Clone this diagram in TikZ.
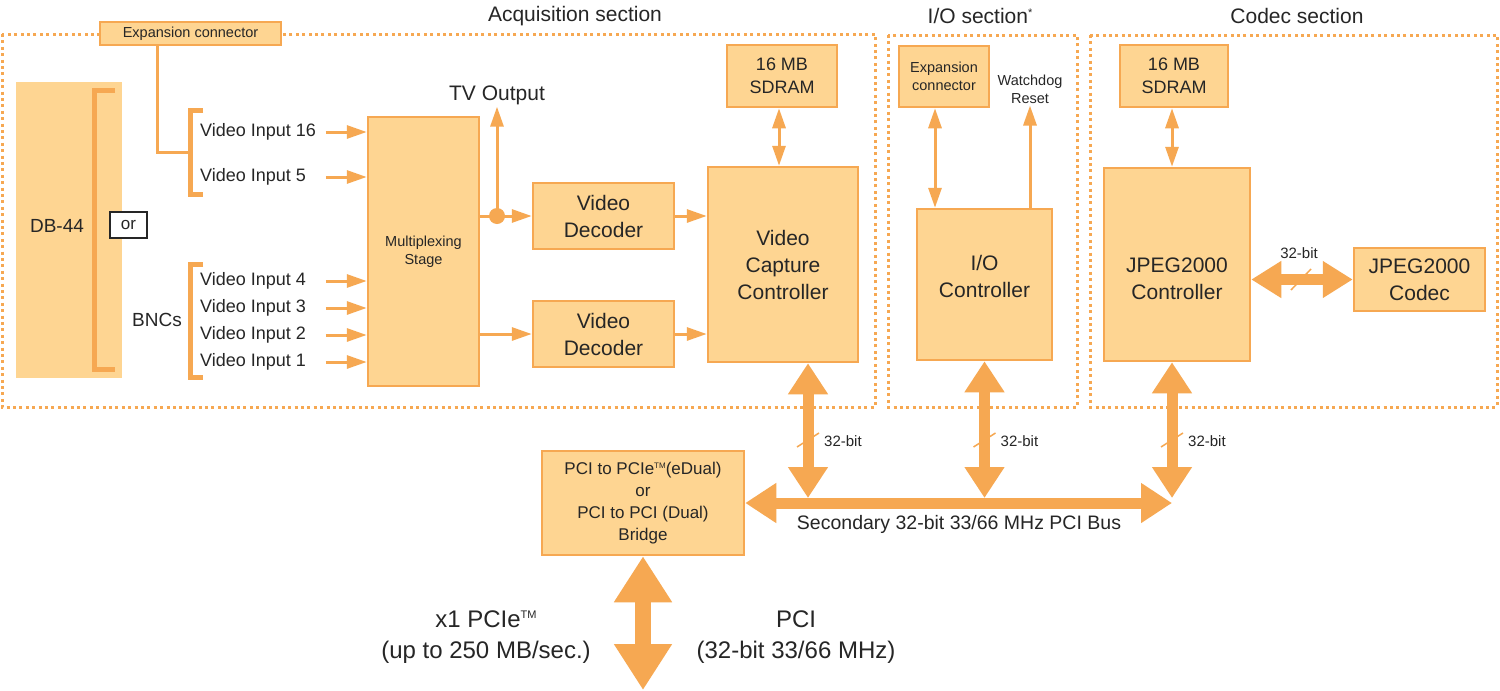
\documentclass[tikz,border=0pt]{standalone}
\usepackage{fontspec}
\setmainfont{Liberation Sans}
\usetikzlibrary{arrows.meta,calc}
\definecolor{ofill}{HTML}{FED592}
\definecolor{ob}{HTML}{F6A852}
\definecolor{tx}{HTML}{262626}
\newcommand{\myfs}[2]{\fontsize{#1}{#2}\selectfont}
\newcommand{\mytm}[2]{{\myfs{#1}{#1}\raisebox{#2}{TM}}}
\begin{document}
\begin{tikzpicture}[x=1pt,y=-1pt,
 box/.style={draw=ob, fill=ofill, line width=2.5pt, inner sep=0pt, text=tx, align=center},
 txt/.style={text=tx, inner sep=0pt, align=center},
 dotbox/.style={draw=ob, line width=3pt, dash pattern=on 3pt off 3.4pt},
 thinline/.style={draw=ob, line width=3pt},
 thinarr/.style={thinline, -{Triangle[length=20pt,width=13pt]}},
 thindbl/.style={thinline, {Triangle[length=20pt,width=13pt]}-{Triangle[length=20pt,width=13pt]}},
 bracket/.style={draw=ob, line width=5pt},
 busarr/.style={draw=ob, line width=11pt, {Triangle[length=31pt,width=38pt]}-{Triangle[length=31pt,width=38pt]}},
 codarr/.style={draw=ob, line width=11pt, {Triangle[length=30pt,width=35pt]}-{Triangle[length=30pt,width=35pt]}},
 hugearr/.style={draw=ob, line width=16pt, {Triangle[length=46pt,width=55pt]}-{Triangle[length=46pt,width=55pt]}},
 slash/.style={draw=ob, line width=1.5pt},
 big/.style={font=\myfs{21}{27}},
 mid/.style={font=\myfs{18}{23}},
 small/.style={font=\myfs{14.5}{18}},
 ]
\fill[white] (0,0) rectangle (1500,691);
\useasboundingbox (0,0) rectangle (1500,691);

% section frames
\draw[dotbox] (2,34) rectangle (875,407);
\draw[dotbox] (888,35) rectangle (1077,407);
\draw[dotbox] (1090,35) rectangle (1497,407);

% titles
\node[txt, big] (tacq) at (575,16) {Acquisition section};
\node[txt, big] (tio) at (980,16) {I/O section\raisebox{7pt}{\myfs{11}{11}*}};
\node[txt, big] (tcod) at (1297,16) {Codec section};

% acquisition section
\node[box, small] (expc) at (190.5,33.5) [minimum width=181pt, minimum height=23pt] {Expansion connector};
\node[fill=ofill, inner sep=0pt, minimum width=106pt, minimum height=296pt] (db) at (69,230) {};
\node[txt, font=\myfs{19}{22}] (dbt) at (57,226) {DB-44};
\draw[bracket] (115,90) -- (94.5,90) -- (94.5,369) -- (115,369);
\node[draw=tx, line width=1.2pt, fill=white, minimum width=37pt, minimum height=26pt, inner sep=0pt, text=tx, font=\myfs{17}{20}] (orb) at (128.5,225) {or};
\node[txt, font=\myfs{19}{22}] (bnc) at (157,320) {BNCs};

\draw[bracket] (203,110.5) -- (190.5,110.5) -- (190.5,194) -- (203,194);
\draw[bracket] (203,264) -- (190.5,264) -- (190.5,377) -- (203,377);
\coordinate (br1) at (190.5,152);
\coordinate (ecx) at (157,0);
\draw[thinline] (expc.south -| ecx) |- (br1);

\node[box, small, minimum width=111pt, minimum height=269pt] (mux) at (423.5,251.5) {Multiplexing\\Stage};

\foreach \n/\t/\yy in {vi16/16/132, vi5/5/177, vi4/4/281, vi3/3/308, vi2/2/335, vi1/1/362}{
  \node[txt, mid, anchor=west] (\n) at (200,\yy) {Video Input \t};
  \draw[thinarr] ($(mux.west |- \n)+(-41,0)$) -- (mux.west |- \n);
}

\node[box, big, minimum width=141pt, minimum height=66pt] (dec1) at (603.5,216) {Video\\Decoder};
\node[box, big, minimum width=141pt, minimum height=66pt] (dec2) at (603.5,334) {Video\\Decoder};
\node[box, big, minimum width=150pt, minimum height=195pt] (vcc) at (783,264.5) {Video\\Capture\\Controller};
\node[box, mid, minimum width=110pt, minimum height=62pt] (sd1) at (782,76) {16 MB\\SDRAM};

\node[txt, big] (tv) at (497,95) {TV Output};
\draw[thinarr] (mux.east |- dec1) -- (dec1.west);
\node[circle, fill=ob, minimum size=16pt, inner sep=0pt] (jn) at (497,216) {};
\draw[thinarr] (jn.center) -- ($(jn.center |- tv.south)+(0,2)$);
\draw[thinarr] (mux.east |- dec2) -- (dec2.west);
\draw[thinarr] (dec1.east) -- (dec1.east -| vcc.west);
\draw[thinarr] (dec2.east) -- (dec2.east -| vcc.west);
\coordinate (s1x) at (779,0);
\draw[thindbl] (sd1.south -| s1x) -- (vcc.north -| s1x);

% I/O section
\node[box, small, minimum width=90pt, minimum height=61pt] (ioexp) at (944,76.5) {Expansion\\connector};
\node[txt, small] (wd) at (1030,89) {Watchdog\\Reset};
\node[box, minimum width=135pt, minimum height=151pt,
  label={[txt, big, yshift=8pt]center:{I/O\\Controller}}] (ioc) at (984.5,284.5) {};
\coordinate (iax) at (935,0);
\draw[thindbl] (ioexp.south -| iax) -- (ioc.north -| iax);
\draw[thinarr] (ioc.north -| wd) -- ($(wd.south)+(0,2)$);

% codec section
\node[box, mid, minimum width=108pt, minimum height=62pt] (sd2) at (1174,76) {16 MB\\SDRAM};
\node[box, minimum width=146pt, minimum height=193pt,
  label={[txt, big, yshift=-14pt]center:{JPEG2000\\Controller}}] (jc) at (1177,264.5) {};
\node[box, big, minimum width=131pt, minimum height=63pt] (jcod) at (1419.5,279.5) {JPEG2000\\Codec};
\coordinate (s2x) at (1172,0);
\draw[thindbl] (sd2.south -| s2x) -- (jc.north -| s2x);
\draw[codarr] (jc.east |- jcod) -- (jcod.west);
\draw[slash] (1291,290) -- (1311,269);
\node[txt, font=\myfs{15}{17}] (cb) at (1299,253) {32-bit};

% bridge and bus
\node[box, font=\myfs{17}{22}, minimum width=202pt, minimum height=104pt] (br) at (643,503) {PCI to PCIe\mytm{8}{6pt}(eDual)\\or\\PCI to PCI (Dual)\\Bridge};
\coordinate (busR) at (1172,503);
\coordinate (b1) at (808,498);
\coordinate (b2) at (984.5,498);
\coordinate (b3) at (1172,498);
\draw[busarr] (br.east) -- (busR);
\draw[busarr] (vcc.south -| b1) -- (b1);
\draw[busarr] (ioc.south -| b2) -- (b2);
\draw[busarr] (jc.south -| b3) -- (b3);
\node[txt, font=\myfs{19.5}{22}] (bust) at (959,524) {Secondary 32-bit 33/66 MHz PCI Bus};

\foreach \c/\n in {b1/l1, b2/l2, b3/l3}{
  \draw[slash] ($(\c |- 0,447)+(-11,0)$) -- ($(\c |- 0,433)+(11,0)$);
  \node[txt, font=\myfs{15}{17}, anchor=west] (\n) at ($(\c |- 0,441)+(16,0)$) {32-bit};
}

% host connection
\coordinate (hostend) at (643,690);
\draw[hugearr] (br.south) -- (br.south |- hostend);
\node[txt, font=\myfs{24}{31}] (pcie) at (486,637) {x1 PCIe\mytm{11}{9pt}\\(up to 250 MB/sec.)};
\node[txt, font=\myfs{24}{31}] (pci) at (796,637) {PCI\\(32-bit 33/66 MHz)};
\end{tikzpicture}
\end{document}
